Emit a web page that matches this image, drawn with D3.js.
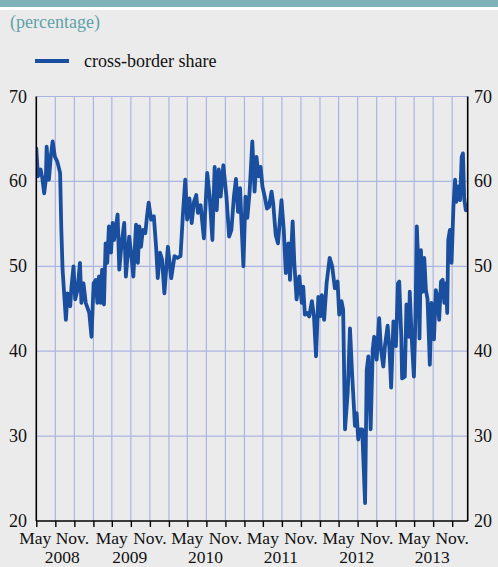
<!doctype html>
<html lang="en">
<head>
<meta charset="utf-8">
<script src="https://d3js.org/d3.v7.min.js"></script>
<style>
  body { margin: 0; background: #ebebeb; }
  svg { display: block; font-family: "Liberation Serif", "DejaVu Serif", serif; }
</style>
</head>
<body>
<div id="chart"></div>
<script>
// cross-border share (percentage)
var dates2008 = ["2008-05-01","2008-05-09","2008-05-22","2008-05-30","2008-06-08","2008-06-16","2008-06-20","2008-07-01","2008-07-10","2008-07-19","2008-07-30","2008-08-11","2008-08-24","2008-08-30","2008-09-05","2008-09-21","2008-09-29","2008-10-12","2008-10-18","2008-10-28","2008-11-05","2008-11-16","2008-11-28","2008-12-05","2008-12-15","2008-12-26"];
var share2008 = [63.9,60.6,61.4,60.4,58.6,60.2,64.1,60.2,62.9,64.7,62.9,62.3,61.0,54.3,49.6,43.7,46.8,45.3,47.6,50.0,46.1,47.2,50.4,45.7,48.0,45.7];

var dates2009 = ["2009-01-12","2009-01-23","2009-02-02","2009-02-13","2009-02-20","2009-02-28","2009-03-08","2009-03-15","2009-03-24","2009-04-01","2009-04-09","2009-04-17","2009-04-27","2009-05-05","2009-05-12","2009-05-29","2009-06-06","2009-06-19","2009-06-30","2009-07-08","2009-07-24","2009-08-02","2009-08-13","2009-08-26","2009-09-04","2009-09-11","2009-09-19","2009-09-28","2009-10-10","2009-10-18","2009-10-26","2009-11-07","2009-11-20","2009-12-01","2009-12-09","2009-12-20","2009-12-30"];
var share2009 = [44.5,41.7,48.0,48.4,45.7,48.8,45.7,49.6,45.5,52.7,50.4,54.7,51.6,55.1,53.1,56.1,49.6,53.1,55.1,48.8,53.5,51.6,48.8,54.9,50.4,54.7,52.3,54.3,53.9,55.9,57.5,55.5,55.9,52.3,48.6,51.6,50.8];

var dates2010 = ["2010-01-10","2010-01-27","2010-02-12","2010-02-28","2010-03-14","2010-03-29","2010-04-10","2010-04-21","2010-04-30","2010-05-11","2010-05-22","2010-06-02","2010-06-13","2010-06-21","2010-07-04","2010-07-20","2010-08-05","2010-08-17","2010-08-30","2010-09-10","2010-09-20","2010-09-30","2010-10-09","2010-10-22","2010-11-06","2010-11-19","2010-11-30","2010-12-12","2010-12-22"];
var share2010 = [46.8,52.3,48.6,51.2,51.0,51.2,56.3,60.2,55.5,58.0,55.1,57.6,58.4,56.3,57.2,53.3,61.0,58.2,53.1,61.7,56.6,61.4,58.2,61.9,58.2,53.5,54.3,58.2,60.3];

var dates2011 = ["2011-01-01","2011-01-11","2011-01-17","2011-01-27","2011-02-06","2011-02-15","2011-02-26","2011-03-11","2011-03-22","2011-03-31","2011-04-10","2011-04-20","2011-04-29","2011-05-10","2011-05-21","2011-05-31","2011-06-12","2011-06-20","2011-07-02","2011-07-13","2011-07-30","2011-08-10","2011-08-20","2011-09-01","2011-09-09","2011-09-22","2011-09-30","2011-10-11","2011-10-24","2011-11-05","2011-11-12","2011-11-20","2011-12-01","2011-12-11","2011-12-24"];
var share2011 = [56.4,59.2,55.5,50.0,58.2,55.7,58.8,64.7,58.8,62.9,60.6,61.7,59.4,58.2,56.8,57.0,58.8,57.4,53.7,52.7,57.8,54.3,49.2,52.7,48.4,55.3,50.4,46.1,48.8,45.7,47.6,44.3,44.5,44.1,45.9];

var dates2012 = ["2012-01-03","2012-01-13","2012-01-24","2012-02-02","2012-02-10","2012-02-21","2012-03-04","2012-03-19","2012-03-31","2012-04-13","2012-04-26","2012-05-04","2012-05-15","2012-05-23","2012-06-01","2012-06-14","2012-06-25","2012-07-06","2012-07-19","2012-07-27","2012-08-04","2012-08-12","2012-08-23","2012-09-06","2012-09-14","2012-09-22","2012-10-03","2012-10-13","2012-10-20","2012-11-01","2012-11-13","2012-11-22","2012-12-03","2012-12-11","2012-12-24"];
var share2012 = [44.1,39.4,46.4,44.1,46.6,43.7,48.0,51.0,50.0,47.4,48.2,44.3,45.9,44.9,30.8,35.1,42.7,37.0,31.2,32.7,29.6,30.8,30.8,22.1,37.8,39.4,30.8,40.2,41.7,39.0,43.9,40.2,38.2,40.6,43.0];

var dates2013 = ["2013-01-02","2013-01-10","2013-01-21","2013-02-02","2013-02-12","2013-02-18","2013-02-28","2013-03-04","2013-03-17","2013-03-25","2013-04-06","2013-04-10","2013-04-19","2013-04-30","2013-05-08","2013-05-14","2013-05-24","2013-05-27","2013-06-03","2013-06-11","2013-06-19","2013-06-27","2013-07-05","2013-07-16","2013-07-24","2013-08-05","2013-08-14","2013-08-22","2013-08-30","2013-09-08","2013-09-16","2013-09-24","2013-10-02","2013-10-08","2013-10-13","2013-10-21","2013-10-29","2013-11-07","2013-11-15","2013-11-21","2013-11-30","2013-12-09","2013-12-17","2013-12-23","2013-12-29","2014-01-06"];
var share2013 = [40.2,35.7,43.5,40.6,48.0,48.2,41.7,36.8,37.0,45.5,41.7,47.0,41.7,37.0,44.5,54.7,48.4,41.5,51.9,47.0,51.0,47.2,46.1,38.4,45.7,41.4,47.2,46.3,43.7,48.2,48.4,45.7,48.0,44.5,53.1,54.3,50.4,57.0,60.2,57.6,59.4,57.8,62.9,63.3,58.0,56.6];

var yTicks = [20, 30, 40, 50, 60, 70];
var monthLabels = ["May", "Nov."];
var years = [2008, 2009, 2010, 2011, 2012, 2013];

var parse = d3.timeParse("%Y-%m-%d");
var allDates = [].concat(dates2008, dates2009, dates2010, dates2011, dates2012, dates2013);
var allShare = [].concat(share2008, share2009, share2010, share2011, share2012, share2013);
var data = allDates.map(function(d, i) { return { date: parse(d), value: allShare[i] }; });

var W = 498, H = 567;
var margin = { left: 36.3, right: 467.7, top: 96.5, bottom: 521 };

var svg = d3.select("#chart").append("svg")
    .attr("width", W)
    .attr("height", H);

svg.append("rect").attr("width", W).attr("height", H).attr("fill", "#ebebeb");
// header band
svg.append("rect").attr("x", 0).attr("y", 0).attr("width", W).attr("height", 7).attr("fill", "#80b3b9");
svg.append("rect").attr("x", 0).attr("y", 7).attr("width", W).attr("height", 3).attr("fill", "#ffffff");

svg.append("text")
    .attr("x", 10).attr("y", 28)
    .attr("font-size", 18)
    .attr("fill", "#5fa2a8")
    .text("(percentage)");

// legend
svg.append("line")
    .attr("x1", 35).attr("x2", 69).attr("y1", 61).attr("y2", 61)
    .attr("stroke", "#1a4f9f").attr("stroke-width", 4);
svg.append("text")
    .attr("x", 84).attr("y", 66.5)
    .attr("font-size", 18)
    .attr("fill", "#111")
    .text("cross-border share");

var x = d3.scaleTime()
    .domain([parse("2008-05-01"), parse("2014-01-15")])
    .range([margin.left, margin.right]);

var y = d3.scaleLinear()
    .domain([20, 70])
    .range([margin.bottom, margin.top]);

var quarters = d3.timeMonth.range(parse("2008-05-01"), parse("2014-01-01"), 3);

// gridlines
var grid = svg.append("g").attr("stroke", "#abb5e3").attr("stroke-width", 1.2);
grid.selectAll(".vg")
    .data(quarters.slice(1))
    .enter().append("line")
    .attr("x1", function(d) { return x(d); })
    .attr("x2", function(d) { return x(d); })
    .attr("y1", margin.top).attr("y2", margin.bottom);
grid.selectAll(".hg")
    .data(yTicks.slice(1))
    .enter().append("line")
    .attr("x1", margin.left).attr("x2", margin.right)
    .attr("y1", function(d) { return y(d); })
    .attr("y2", function(d) { return y(d); });

// line
svg.append("defs").append("clipPath").attr("id", "clip")
  .append("rect")
    .attr("x", margin.left).attr("y", margin.top - 5)
    .attr("width", margin.right - margin.left).attr("height", margin.bottom - margin.top + 5);

var line = d3.line()
    .x(function(d) { return x(d.date); })
    .y(function(d) { return y(d.value); });

svg.append("path")
    .datum(data)
    .attr("clip-path", "url(#clip)")
    .attr("fill", "none")
    .attr("stroke", "#1a4f9f")
    .attr("stroke-width", 3.8)
    .attr("stroke-linejoin", "round")
    .attr("stroke-linecap", "round")
    .attr("d", line);

// axes
var axisColor = "#000";
svg.append("line")
    .attr("x1", margin.left).attr("x2", margin.left)
    .attr("y1", margin.top).attr("y2", margin.bottom)
    .attr("stroke", axisColor).attr("stroke-width", 1.6);
svg.append("line")
    .attr("x1", margin.right).attr("x2", margin.right)
    .attr("y1", margin.top).attr("y2", margin.bottom)
    .attr("stroke", axisColor).attr("stroke-width", 1.6);

var bottom = svg.append("g")
    .attr("transform", "translate(0," + margin.bottom + ")")
    .call(d3.axisBottom(x).tickValues(quarters).tickSize(6).tickFormat(""));
bottom.select(".domain").attr("stroke", axisColor).attr("stroke-width", 1.6)
    .attr("d", "M" + margin.left + ",0H" + margin.right);
bottom.selectAll(".tick line").attr("stroke", axisColor).attr("stroke-width", 1.4);

// month labels on May / Nov ticks
var labelTicks = quarters.filter(function(d) { return d.getMonth() === 4 || d.getMonth() === 10; });
svg.append("g").selectAll("text")
    .data(labelTicks)
    .enter().append("text")
    .attr("x", function(d, i) { return x(d) - (i === 0 ? 1 : i === 1 ? 2 : 0); })
    .attr("y", 543.5)
    .attr("text-anchor", "middle")
    .attr("font-size", 17.5)
    .attr("fill", "#111")
    .text(function(d) { return d.getMonth() === 4 ? monthLabels[0] : monthLabels[1]; });

svg.append("g").selectAll("text")
    .data(years)
    .enter().append("text")
    .attr("x", function(d, i) { return x(new Date(d, 7, 1)) - 1 + (i === 0 ? 8 : 0); })
    .attr("y", 563)
    .attr("text-anchor", "middle")
    .attr("font-size", 17.5)
    .attr("fill", "#111")
    .text(function(d) { return d; });

// y labels both sides
svg.append("g").selectAll("text")
    .data(yTicks)
    .enter().append("text")
    .attr("x", 27)
    .attr("y", function(d) { return y(d) + 6; })
    .attr("text-anchor", "end")
    .attr("font-size", 18)
    .attr("fill", "#111")
    .text(function(d) { return d; });
svg.append("g").selectAll("text")
    .data(yTicks)
    .enter().append("text")
    .attr("x", 474)
    .attr("y", function(d) { return y(d) + 6; })
    .attr("text-anchor", "start")
    .attr("font-size", 18)
    .attr("fill", "#111")
    .text(function(d) { return d; });
</script>
</body>
</html>
